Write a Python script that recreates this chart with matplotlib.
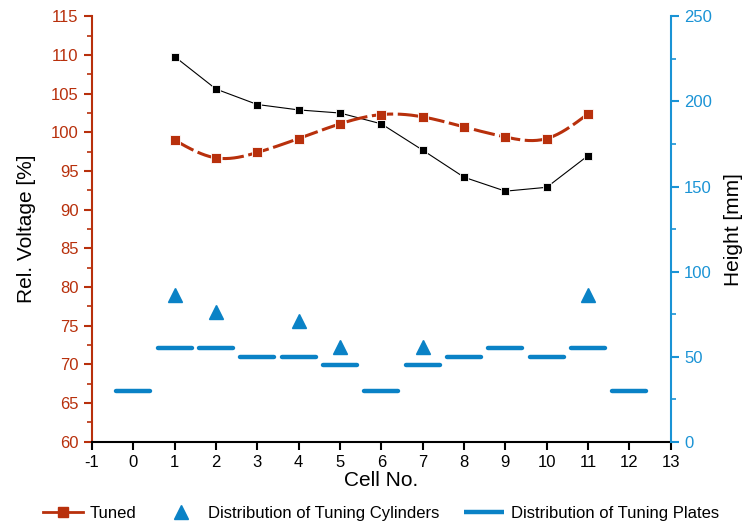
import numpy as np
import matplotlib.pyplot as plt
from matplotlib.lines import Line2D

plt.rcParams['font.family'] = ['Liberation Sans', 'DejaVu Sans']
plt.rcParams['axes.unicode_minus'] = False

RED = '#B8300C'
BLUE = '#0A82C6'
BLUE_AX = '#1A93D5'

# data
cells = [1, 2, 3, 4, 5, 6, 7, 8, 9, 10, 11]
untuned = [109.8, 105.6, 103.6, 102.9, 102.5, 101.1, 97.7, 94.2, 92.4, 92.9, 97.0]
tuned = [99.0, 96.7, 97.4, 99.2, 101.1, 102.3, 102.0, 100.7, 99.4, 99.2, 102.4]

cyl_cells = [1, 2, 4, 5, 7, 11]
cyl_height = [86, 76, 71, 56, 56, 86]

plate_cells = [0, 1, 2, 3, 4, 5, 6, 7, 8, 9, 10, 11, 12]
plate_height = [30, 55, 55, 50, 50, 45, 30, 45, 50, 55, 50, 55, 30]


def natural_spline(x, y, n=300):
    # natural cubic spline through the points (used only to draw the smooth line)
    x = np.asarray(x, float)
    y = np.asarray(y, float)
    k = len(x)
    h = np.diff(x)
    A = np.zeros((k, k))
    b = np.zeros(k)
    A[0, 0] = A[-1, -1] = 1
    for i in range(1, k - 1):
        A[i, i - 1] = h[i - 1]
        A[i, i] = 2 * (h[i - 1] + h[i])
        A[i, i + 1] = h[i]
        b[i] = 3 * ((y[i + 1] - y[i]) / h[i] - (y[i] - y[i - 1]) / h[i - 1])
    c = np.linalg.solve(A, b)
    xs = np.linspace(x[0], x[-1], n)
    idx = np.clip(np.searchsorted(x, xs) - 1, 0, k - 2)
    dx = xs - x[idx]
    bb = (y[idx + 1] - y[idx]) / h[idx] - h[idx] * (2 * c[idx] + c[idx + 1]) / 3
    d = (c[idx + 1] - c[idx]) / (3 * h[idx])
    ys = y[idx] + bb * dx + c[idx] * dx ** 2 + d * dx ** 3
    return xs, ys


fig = plt.figure(figsize=(7.47, 5.26), dpi=100)
ax = fig.add_axes([0.123, 0.160, 0.775, 0.809])
ax2 = ax.twinx()

# left axis: voltages
ax.plot(cells, untuned, color='black', lw=0.8, marker='s', ms=5.8,
        mfc='black', mec='white', mew=0.6, zorder=3)
xs, ys = natural_spline(cells, tuned)
ax.plot(xs, ys, color=RED, lw=2.2, dashes=(7, 1.5), zorder=3)
ax.plot(cells, tuned, ls='none', marker='s', ms=7.5, mfc=RED, mec='white',
        mew=0.6, zorder=4)

# right axis: heights
x0 = np.array(plate_cells)
ax2.hlines(plate_height, x0 - 0.41, x0 + 0.41, colors=BLUE, lw=3.2,
           capstyle='round')
ax2.plot(cyl_cells, cyl_height, ls='none', marker='^', ms=10, color=BLUE)

ax.set_xlim(-1, 13)
ax.set_ylim(60, 115)
ax2.set_ylim(0, 250)
ax.set_xticks(range(-1, 14))
ax.set_yticks(range(60, 116, 5))
ax.set_yticks(np.arange(62.5, 115, 5), minor=True)
ax2.set_yticks(range(0, 251, 50))
ax2.set_yticks(range(25, 250, 50), minor=True)

for a in (ax, ax2):
    a.spines['top'].set_visible(False)
ax.spines['right'].set_visible(False)
ax2.spines['left'].set_visible(False)
ax2.spines['bottom'].set_visible(False)
ax.spines['left'].set_color(RED)
ax.spines['left'].set_linewidth(1.5)
ax.spines['bottom'].set_linewidth(1.5)
ax2.spines['right'].set_color(BLUE_AX)
ax2.spines['right'].set_linewidth(1.5)

ax.tick_params(axis='x', direction='out', length=6, width=1.5, labelsize=12)
ax.tick_params(axis='y', which='major', direction='out', length=6, width=1.5,
               color=RED, labelcolor=RED, labelsize=12)
ax.tick_params(axis='y', which='minor', direction='out', length=3.5, width=1.2,
               color=RED)
ax2.tick_params(axis='y', which='major', direction='out', length=6, width=1.5,
                color=BLUE_AX, labelcolor=BLUE_AX, labelsize=12)
ax2.tick_params(axis='y', which='minor', direction='out', length=3.5, width=1.2,
                color=BLUE_AX)

ax.set_xlabel('Cell No.', fontsize=15, labelpad=1)
ax.set_ylabel('Rel. Voltage [%]', fontsize=15, labelpad=11)
ax2.set_ylabel('Height [mm]', fontsize=15, labelpad=9)

handles = [
    Line2D([], [], color=RED, lw=2, marker='s', ms=7.5, mec=RED),
    Line2D([], [], ls='none', marker='^', ms=10, color=BLUE),
    Line2D([], [], color=BLUE, lw=3.2, solid_capstyle='butt'),
]
labels = ['Tuned', 'Distribution of Tuning Cylinders', 'Distribution of Tuning Plates']
fig.legend(handles, labels, loc='center', bbox_to_anchor=(0.51, 0.024), ncol=3,
           frameon=False, fontsize=12, handlelength=2.4, handletextpad=0.4,
           columnspacing=1.5, borderpad=0)

fig.savefig('out.png', dpi=100)
